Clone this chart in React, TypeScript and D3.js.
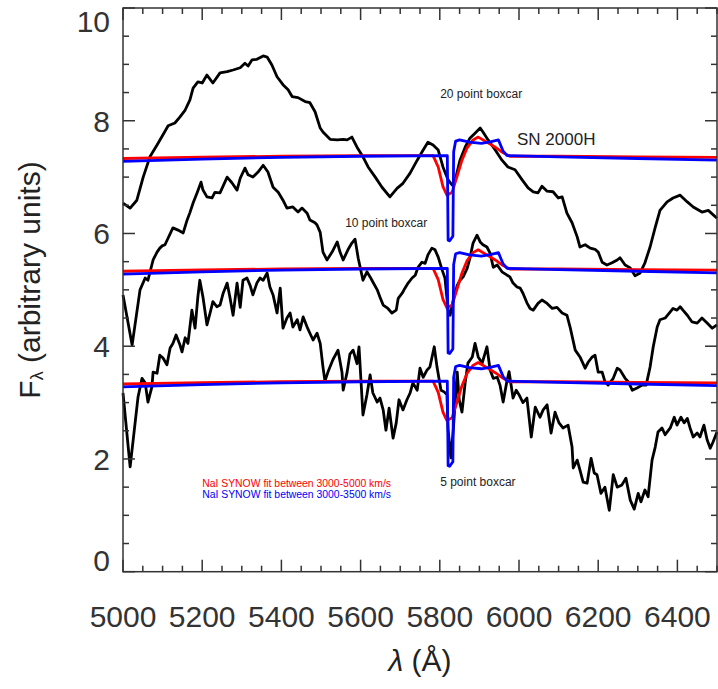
import React from 'react'
import * as d3 from 'd3'

// SN 2000H spectra, smoothed with different boxcars (λ in Å, flux in arbitrary units)
const boxcar20 = [
  [5000, 6.54], [5018, 6.45], [5035, 6.59], [5051, 7.0], [5068, 7.36], [5086, 7.57], [5101, 7.75], [5114, 7.91],
  [5131, 7.96], [5144, 8.07], [5157, 8.19], [5169, 8.37], [5177, 8.58], [5189, 8.69], [5200, 8.67], [5212, 8.81],
  [5227, 8.67], [5245, 8.85], [5263, 8.87], [5278, 8.9], [5296, 8.94], [5308, 9.02], [5316, 8.97], [5326, 9.08],
  [5338, 9.09], [5354, 9.15], [5364, 9.13], [5376, 8.99], [5389, 8.78], [5404, 8.64], [5417, 8.55], [5427, 8.43],
  [5442, 8.41], [5460, 8.34], [5472, 8.32], [5485, 8.16], [5498, 7.87], [5505, 7.8], [5523, 7.67], [5541, 7.66],
  [5556, 7.67], [5566, 7.66], [5578, 7.71], [5591, 7.53], [5606, 7.36], [5619, 7.18], [5637, 7.0], [5654, 6.82],
  [5674, 6.65], [5692, 6.8], [5707, 6.89], [5725, 7.07], [5743, 7.3], [5758, 7.48], [5770, 7.62], [5783, 7.57],
  [5796, 7.48], [5808, 7.18], [5821, 6.95], [5831, 6.86], [5839, 6.95], [5851, 7.3], [5864, 7.53], [5876, 7.69],
  [5889, 7.78], [5902, 7.87], [5909, 7.8], [5922, 7.66], [5940, 7.48], [5957, 7.3], [5972, 7.18], [5990, 7.13],
  [6008, 6.95], [6023, 6.81], [6036, 6.74], [6048, 6.72], [6058, 6.84], [6071, 6.75], [6086, 6.74], [6099, 6.63],
  [6109, 6.65], [6121, 6.36], [6134, 6.19], [6147, 5.94], [6154, 5.76], [6167, 5.8], [6180, 5.74], [6192, 5.72],
  [6200, 5.67], [6210, 5.49], [6222, 5.44], [6235, 5.48], [6248, 5.53], [6255, 5.57], [6268, 5.44], [6281, 5.39],
  [6293, 5.25], [6306, 5.3], [6318, 5.48], [6331, 5.76], [6344, 6.11], [6356, 6.41], [6374, 6.56], [6389, 6.63],
  [6407, 6.68], [6425, 6.56], [6440, 6.47], [6462, 6.38], [6478, 6.41], [6500, 6.27],
]

const boxcar10 = [
  [5000, 4.91], [5023, 4.02], [5043, 5.0], [5056, 5.21], [5063, 5.17], [5076, 5.53], [5086, 5.67], [5093, 5.74],
  [5099, 5.78], [5106, 5.8], [5114, 5.92], [5126, 6.1], [5139, 6.06], [5152, 6.01], [5162, 6.24], [5169, 6.37],
  [5177, 6.54], [5187, 6.72], [5197, 6.91], [5202, 6.77], [5212, 6.65], [5225, 6.63], [5232, 6.73], [5245, 6.72],
  [5263, 7.0], [5275, 6.9], [5288, 6.77], [5296, 6.98], [5308, 7.16], [5316, 7.04], [5328, 7.0], [5341, 7.09],
  [5354, 7.21], [5366, 7.09], [5379, 6.82], [5392, 6.73], [5404, 6.59], [5414, 6.45], [5429, 6.47], [5442, 6.38],
  [5452, 6.45], [5465, 6.36], [5472, 6.24], [5485, 6.19], [5490, 6.15], [5498, 6.02], [5505, 5.67], [5515, 5.53],
  [5528, 5.67], [5541, 5.85], [5548, 5.67], [5556, 5.53], [5568, 5.71], [5578, 5.83], [5586, 5.9], [5594, 5.56],
  [5606, 5.17], [5616, 5.32], [5624, 5.23], [5631, 5.14], [5642, 5.0], [5649, 4.87], [5657, 4.73], [5669, 4.67],
  [5679, 4.59], [5690, 4.64], [5695, 4.85], [5705, 4.94], [5712, 5.03], [5720, 5.12], [5730, 5.21], [5738, 5.26],
  [5745, 5.4], [5755, 5.49], [5763, 5.47], [5770, 5.62], [5780, 5.74], [5788, 5.71], [5796, 5.58], [5806, 5.35],
  [5813, 5.21], [5821, 4.64], [5826, 4.55], [5834, 4.82], [5844, 5.08], [5851, 5.17], [5859, 5.23], [5869, 5.38],
  [5876, 5.56], [5884, 5.83], [5894, 5.97], [5902, 5.85], [5909, 5.8], [5919, 5.76], [5927, 5.65], [5935, 5.4],
  [5945, 5.44], [5957, 5.32], [5970, 5.26], [5977, 5.23], [5985, 5.12], [5995, 5.05], [6003, 5.03], [6010, 4.94],
  [6020, 4.77], [6028, 4.67], [6036, 4.64], [6048, 4.76], [6058, 4.82], [6071, 4.76], [6084, 4.67], [6096, 4.69],
  [6109, 4.59], [6121, 4.55], [6129, 4.34], [6142, 3.93], [6154, 3.81], [6167, 3.61], [6175, 3.72], [6185, 3.81],
  [6192, 3.84], [6200, 3.54], [6210, 3.54], [6217, 3.37], [6225, 3.31], [6238, 3.43], [6248, 3.61], [6255, 3.58],
  [6268, 3.43], [6276, 3.37], [6286, 3.22], [6298, 3.26], [6311, 3.31], [6321, 3.31], [6331, 3.63], [6339, 3.99],
  [6349, 4.34], [6356, 4.47], [6369, 4.5], [6382, 4.61], [6389, 4.67], [6399, 4.64], [6407, 4.7], [6414, 4.64],
  [6425, 4.55], [6437, 4.43], [6450, 4.41], [6462, 4.5], [6475, 4.41], [6488, 4.32], [6500, 4.38],
]

const boxcar5 = [
  [5000, 3.17], [5018, 1.86], [5038, 3.1], [5048, 3.43], [5056, 3.35], [5063, 3.01], [5073, 3.28], [5076, 3.54],
  [5086, 3.52], [5093, 3.84], [5101, 3.79], [5111, 3.67], [5119, 3.97], [5126, 4.05], [5134, 4.2], [5144, 4.02],
  [5149, 3.9], [5157, 4.15], [5164, 4.05], [5174, 4.64], [5182, 4.32], [5189, 4.87], [5194, 5.17], [5202, 4.87],
  [5212, 4.38], [5220, 4.59], [5227, 4.79], [5237, 4.7], [5245, 4.73], [5253, 4.94], [5263, 5.12], [5270, 4.87],
  [5278, 4.55], [5288, 5.12], [5296, 4.69], [5303, 5.17], [5313, 5.21], [5321, 5.08], [5328, 4.91], [5338, 5.12],
  [5346, 5.21], [5354, 5.17], [5364, 5.3], [5371, 5.05], [5379, 4.91], [5389, 4.59], [5397, 5.03], [5404, 4.32],
  [5414, 4.5], [5422, 4.59], [5429, 4.34], [5440, 4.47], [5447, 4.29], [5455, 4.52], [5465, 4.34], [5472, 4.23],
  [5480, 4.11], [5490, 4.23], [5498, 4.05], [5505, 3.63], [5510, 3.38], [5518, 3.55], [5530, 3.76], [5543, 3.93],
  [5553, 3.54], [5556, 3.22], [5566, 3.54], [5573, 3.86], [5581, 3.93], [5591, 3.69], [5596, 3.99], [5606, 2.78],
  [5616, 3.14], [5624, 3.49], [5631, 3.17], [5642, 3.01], [5649, 3.08], [5657, 2.87], [5664, 2.51], [5672, 2.9],
  [5682, 2.37], [5690, 2.64], [5697, 3.05], [5707, 2.87], [5717, 3.05], [5725, 3.17], [5732, 3.35], [5743, 3.22],
  [5750, 3.61], [5758, 3.45], [5768, 3.58], [5775, 3.63], [5786, 3.99], [5793, 3.63], [5803, 3.22], [5811, 3.19],
  [5818, 3.14], [5821, 2.51], [5828, 2.02], [5834, 2.51], [5844, 3.54], [5849, 3.05], [5856, 2.83], [5864, 3.35],
  [5871, 3.7], [5882, 3.81], [5889, 4.05], [5897, 3.81], [5907, 3.7], [5919, 3.99], [5927, 3.58], [5935, 3.43],
  [5945, 3.45], [5952, 3.31], [5960, 3.01], [5970, 3.4], [5975, 3.55], [5985, 3.08], [5993, 3.22], [6000, 3.14],
  [6010, 3.0], [6020, 3.08], [6031, 2.39], [6041, 2.92], [6053, 2.74], [6061, 2.87], [6071, 2.96], [6081, 2.46],
  [6091, 2.83], [6101, 2.64], [6111, 2.55], [6124, 2.6], [6134, 2.21], [6137, 1.84], [6147, 1.98], [6154, 1.8],
  [6162, 1.59], [6172, 1.57], [6182, 2.01], [6190, 1.75], [6197, 1.72], [6207, 1.39], [6217, 1.5], [6228, 1.09],
  [6238, 1.72], [6248, 1.5], [6260, 1.54], [6270, 1.66], [6281, 1.27], [6291, 1.11], [6301, 1.39], [6308, 1.24],
  [6318, 1.45], [6326, 1.33], [6336, 1.98], [6344, 2.21], [6351, 2.48], [6361, 2.55], [6369, 2.43], [6382, 2.55],
  [6392, 2.74], [6399, 2.6], [6409, 2.74], [6417, 2.64], [6425, 2.72], [6432, 2.55], [6440, 2.39], [6450, 2.46],
  [6457, 2.39], [6467, 2.6], [6475, 2.34], [6483, 2.19], [6490, 2.3], [6500, 2.48],
]

// NaI SYNOW fits (lowest copy), repeated over each spectrum
const fitRed = [
  [5000, 3.33], [5200, 3.355], [5400, 3.37], [5600, 3.38], [5783, 3.38], [5796, 3.18], [5808, 2.83], [5818, 2.68],
  [5831, 2.73], [5843, 3.0], [5856, 3.3], [5869, 3.52], [5884, 3.66], [5897, 3.71], [5919, 3.62], [5940, 3.53],
  [5960, 3.43], [5977, 3.37], [6100, 3.37], [6300, 3.36], [6500, 3.35],
]
const fitBlue = [
  [5000, 3.28], [5200, 3.32], [5400, 3.35], [5600, 3.37], [5819, 3.38], [5821, 1.88], [5825, 1.87], [5833, 1.95],
  [5835, 3.45], [5840, 3.64], [5850, 3.66], [5875, 3.62], [5905, 3.6], [5930, 3.63], [5948, 3.66], [5960, 3.46],
  [5970, 3.38], [6100, 3.36], [6300, 3.33], [6500, 3.3],
]
const fitOffsets = [0, 2, 4]

const xMajor = [5000, 5200, 5400, 5600, 5800, 6000, 6200, 6400]
const yMajor = [0, 2, 4, 6, 8, 10]

const font = 'Liberation Sans, Arial, Helvetica, sans-serif'

export default function App() {
  const left = 123
  const right = 717
  const top = 8
  const bottom = 571.7

  const x = d3.scaleLinear().domain([5000, 6500]).range([left, right])
  const y = d3.scaleLinear().domain([0, 10]).range([bottom, top])
  const line = d3
    .line<number[]>()
    .x((d) => x(d[0]))
    .y((d) => y(d[1]))

  const xMinor = d3.range(5000, 6501, 50).filter((v) => v % 200 !== 0)
  const yMinor = d3.range(0, 10.01, 0.5).filter((v) => v % 2 !== 0)

  const axisColor = '#333'
  const spectra = [boxcar20, boxcar10, boxcar5]

  return (
    <svg
      width={718}
      height={689}
      style={{ position: 'absolute', left: 0, top: 0, display: 'block', background: '#fff' }}
      fontFamily={font}
    >
      {spectra.map((s, i) => (
        <path key={'s' + i} d={line(s) ?? ''} fill="none" stroke="#000" strokeWidth={2.8} strokeLinejoin="round" />
      ))}
      {fitOffsets.map((o) => (
        <path
          key={'r' + o}
          d={line(fitRed.map((d) => [d[0], d[1] + o])) ?? ''}
          fill="none"
          stroke="#ff0000"
          strokeWidth={2.8}
          strokeLinejoin="round"
        />
      ))}
      {fitOffsets.map((o) => (
        <path
          key={'b' + o}
          d={line(fitBlue.map((d) => [d[0], d[1] + o])) ?? ''}
          fill="none"
          stroke="#0000ff"
          strokeWidth={2.8}
          strokeLinejoin="round"
        />
      ))}

      {/* frame */}
      <rect x={left} y={top} width={right - left} height={bottom - top} fill="none" stroke={axisColor} strokeWidth={1.5} />

      {/* x ticks, bottom and top */}
      {xMajor.map((v) => (
        <g key={'xm' + v} stroke={axisColor} strokeWidth={1.5}>
          <line x1={x(v)} x2={x(v)} y1={bottom} y2={bottom - 12} />
          <line x1={x(v)} x2={x(v)} y1={top} y2={top + 12} />
        </g>
      ))}
      {xMinor.map((v) => (
        <g key={'xn' + v} stroke={axisColor} strokeWidth={1.5}>
          <line x1={x(v)} x2={x(v)} y1={bottom} y2={bottom - 6} />
          <line x1={x(v)} x2={x(v)} y1={top} y2={top + 6} />
        </g>
      ))}
      {yMajor.map((v) => (
        <g key={'ym' + v} stroke={axisColor} strokeWidth={1.5}>
          <line x1={left} x2={left + 12} y1={y(v)} y2={y(v)} />
          <line x1={right} x2={right - 12} y1={y(v)} y2={y(v)} />
        </g>
      ))}
      {yMinor.map((v) => (
        <g key={'yn' + v} stroke={axisColor} strokeWidth={1.5}>
          <line x1={left} x2={left + 6} y1={y(v)} y2={y(v)} />
          <line x1={right} x2={right - 6} y1={y(v)} y2={y(v)} />
        </g>
      ))}

      {/* tick labels */}
      {xMajor.map((v) => (
        <text key={'xl' + v} x={x(v)} y={627} textAnchor="middle" fontSize={30} fill="#333">
          {v}
        </text>
      ))}
      {yMajor.map((v) => (
        <text
          key={'yl' + v}
          x={110}
          y={y(v) + (v === 0 ? -1 : v === 10 ? 24 : 11)}
          textAnchor="end"
          fontSize={30}
          fill="#333"
        >
          {v}
        </text>
      ))}

      {/* axis titles */}
      <text x={420} y={671} textAnchor="middle" fontSize={30} fill="#222">
        <tspan fontStyle="italic">λ</tspan> (Å)
      </text>
      <text transform="translate(40,280) rotate(-90)" textAnchor="middle" fontSize={30} fill="#222">
        F<tspan fontSize={18} dy={3}>λ</tspan>
        <tspan dy={-3}> (arbitrary units)</tspan>
      </text>

      {/* annotations */}
      <text x={x(5801)} y={y(8.4)} fontSize={12} fill="#222">20 point boxcar</text>
      <text x={x(5561)} y={y(6.11)} fontSize={12} fill="#222">10 point boxcar</text>
      <text x={x(5801)} y={y(1.52)} fontSize={12} fill="#222">5 point boxcar</text>
      <text x={x(5995)} y={y(7.57)} fontSize={17} fill="#222">SN 2000H</text>
      <text x={x(5200)} y={y(1.5)} fontSize={10.4} fill="#ff0000">NaI SYNOW fit between 3000-5000 km/s</text>
      <text x={x(5200)} y={y(1.31)} fontSize={10.4} fill="#0000ff">NaI SYNOW fit between 3000-3500 km/s</text>
    </svg>
  )
}
